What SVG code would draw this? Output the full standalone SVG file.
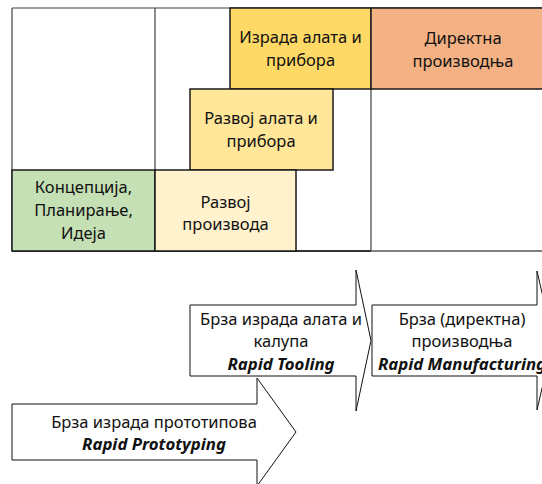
<svg xmlns="http://www.w3.org/2000/svg" width="542" height="484" viewBox="0 0 542 484">
<style>
.t{font-family:"Noto Sans","Open Sans",sans-serif;font-size:16.5px;fill:#111;text-anchor:middle}
.e{font-family:"Noto Sans","Open Sans",sans-serif;font-size:16.8px;font-weight:bold;font-style:italic;fill:#111;text-anchor:middle}
.cell{stroke:#1a1a1a;stroke-width:1.5}
.grid{stroke:#404040;stroke-width:1.2;fill:none}
.arrow{fill:#fff;stroke:#111;stroke-width:1}
</style>
<rect x="0" y="0" width="542" height="484" fill="#fff"/>
<g id="grid">
<line class="grid" x1="12" y1="8" x2="542" y2="8"/>
<line class="grid" x1="12" y1="8" x2="12" y2="251" stroke="#111"/>
<line class="grid" x1="155" y1="8" x2="155" y2="251" stroke="#666"/>
<line class="grid" x1="371" y1="8" x2="371" y2="251" stroke="#333"/>
<line x1="12" y1="251" x2="371" y2="251" stroke="#333" stroke-width="2"/>
<line x1="371" y1="251" x2="542" y2="251" stroke="#808080" stroke-width="2"/>
</g>
<g id="izrada-alata">
<rect class="cell" x="230" y="8" width="141" height="81" fill="#FFD966"/>
<text class="t" x="300.5" y="43">Израда алата и</text>
<text class="t" x="300.5" y="66">прибора</text>
</g>
<g id="direktna-proizvodnja">
<rect class="cell" x="371" y="8" width="190" height="81" fill="#F4B183"/>
<text class="t" x="463" y="44">Директна</text>
<text class="t" x="463" y="67">производња</text>
</g>
<g id="razvoj-alata">
<rect class="cell" x="190" y="89" width="143" height="81" fill="#FFE699"/>
<text class="t" x="261" y="124">Развој алата и</text>
<text class="t" x="261" y="147">прибора</text>
</g>
<g id="koncepcija">
<rect class="cell" x="12" y="170" width="143" height="81" fill="#C5E0B4"/>
<text class="t" x="83.5" y="193">Концепција,</text>
<text class="t" x="83.5" y="216">Планирање,</text>
<text class="t" x="83.5" y="239">Идеја</text>
</g>
<g id="razvoj-proizvoda">
<rect class="cell" x="155" y="170" width="141" height="81" fill="#FFF2CC"/>
<text class="t" x="225.5" y="208">Развој</text>
<text class="t" x="225.5" y="230">производа</text>
</g>
<g id="rapid-manufacturing">
<path class="arrow" d="M372,305 H537 V271 L553,340.5 L537,410 V376 H372 Z"/>
<text class="t" x="462" y="325">Брза (директна)</text>
<text class="t" x="462" y="347">производња</text>
<text class="e" x="462" y="370">Rapid Manufacturing</text>
</g>
<g id="rapid-tooling">
<path class="arrow" d="M190,305 H356 V270 L371,340.5 L356,411 V376 H190 Z"/>
<text class="t" x="281" y="325">Брза израда алата и</text>
<text class="t" x="281" y="347">калупа</text>
<text class="e" x="281" y="370">Rapid Tooling</text>
</g>
<g id="rapid-prototyping">
<path class="arrow" d="M12,404 H257 V378 L296,432 L257,486 V460 H12 Z"/>
<text class="t" x="154" y="428">Брза израда прототипова</text>
<text class="e" x="154" y="450">Rapid Prototyping</text>
</g>
<g id="connectors"></g>
</svg>
